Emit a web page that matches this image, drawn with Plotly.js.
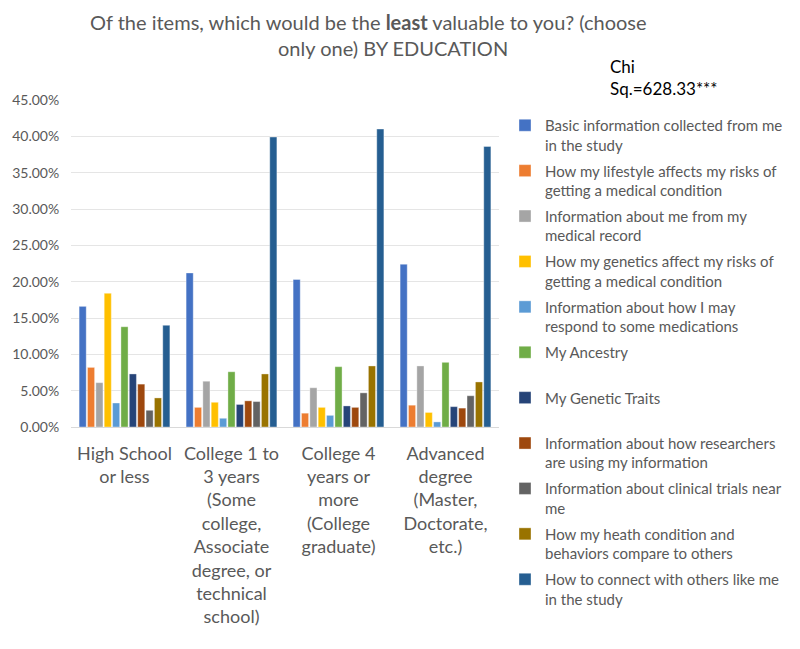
<!DOCTYPE html>
<html>
<head>
<meta charset="utf-8">
<script src="https://cdn.plot.ly/plotly-3.0.1.min.js"></script>
<style>
  body { margin: 0; background: #fff; }
  #plot { width: 800px; height: 649px; }
</style>
</head>
<body>
<div id="plot"></div>
<script>
// education groups on the x axis
let categories = [
  "High School<br>or less",
  "College 1 to<br>3 years<br>(Some<br>college,<br>Associate<br>degree, or<br>technical<br>school)",
  "College 4<br>years or<br>more<br>(College<br>graduate)",
  "Advanced<br>degree<br>(Master,<br>Doctorate,<br>etc.)"
];

// legend labels (wrapped like the original)
let items = [
  "Basic information collected from me<br>in the study",
  "How my lifestyle affects my risks of<br>getting a medical condition",
  "Information about me from my<br>medical record",
  "How my genetics affect my risks of<br>getting a medical condition",
  "Information about how I may<br>respond to some medications",
  "My Ancestry<br> ",
  "My Genetic Traits<br> ",
  "Information about how researchers<br>are using my information",
  "Information about clinical trials near<br>me",
  "How my heath condition and<br>behaviors compare to others",
  "How to connect with others like me<br>in the study"
];

// share per item, one array per education group
let highSchool = [0.166, 0.082, 0.061, 0.184, 0.033, 0.138, 0.073, 0.059, 0.023, 0.040, 0.140];
let college13 = [0.212, 0.027, 0.063, 0.034, 0.012, 0.076, 0.031, 0.036, 0.035, 0.073, 0.399];
let college4 = [0.203, 0.019, 0.054, 0.027, 0.016, 0.083, 0.029, 0.027, 0.047, 0.084, 0.410];
let advanced = [0.224, 0.030, 0.084, 0.020, 0.007, 0.089, 0.028, 0.026, 0.043, 0.062, 0.386];

let colors = ["#4472C4", "#ED7D31", "#A5A5A5", "#FFC000", "#5B9BD5", "#70AD47",
              "#264478", "#9E480E", "#636363", "#997300", "#255E91"];

let groups = [highSchool, college13, college4, advanced];

let data = items.map(function (name, i) {
  return {
    x: categories,
    y: groups.map(function (g) { return g[i]; }),
    type: "bar",
    name: name,
    legendgroup: "g" + i,
    marker: { color: colors[i], line: { color: "rgba(255,255,255,0.6)", width: 0.6 } }
  };
});

let grey = "#595959";

let layout = {
  width: 800,
  height: 649,
  margin: { l: 71, r: 301, t: 100, b: 222 },
  font: { family: "Lato, sans-serif", color: grey },
  plot_bgcolor: "#fff",
  paper_bgcolor: "#fff",
  barmode: "group",
  bargap: 0.14,
  bargroupgap: 0.15,
  showlegend: true,
  legend: {
    xref: "container", yref: "container",
    x: 505 / 800, y: 1 - 109 / 649,
    xanchor: "left", yanchor: "top",
    font: { size: 15, color: grey },
    valign: "top",
    tracegroupgap: 3.4,
    itemwidth: 30,
    maxheight: 620
  },
  xaxis: {
    tickfont: { size: 18, color: grey },
    showline: true, linecolor: "#d9d9d9",
    ticks: "",
    ticklabelstandoff: 10
  },
  yaxis: {
    range: [0, 0.45],
    dtick: 0.05,
    tickformat: ".2%",
    tickfont: { size: 14, color: grey },
    gridcolor: "#e5e5e5",
    zeroline: false,
    ticks: "outside", tickcolor: "#fff", ticklen: 8
  },
  annotations: [
    {
      xanchor: "left", yanchor: "middle",
      text: "Of the items, which would be the <b>least</b> valuable to you? (choose",
      showarrow: false, font: { size: 20, color: grey }
    },
    {
      xanchor: "left", yanchor: "middle",
      text: "only one) BY EDUCATION",
      showarrow: false, font: { size: 20, color: grey }
    },
    {
      xanchor: "left", yanchor: "top",
      text: "Chi<br>Sq.=628.33***", align: "left",
      showarrow: false, font: { size: 17, color: "#000" }
    }
  ]
};

// annotations are placed in pixels, converted to paper units
let ph = 649 - 100 - 222, pw = 800 - 71 - 301;
function py(pix) { return (649 - 222 - pix) / ph; }
function px(pix) { return (pix - 71) / pw; }
let spots = [[88, 22], [276, 48], [608, 54]];
layout.annotations.forEach(function (a, k) {
  a.xref = "paper"; a.yref = "paper";
  a.x = px(spots[k][0]); a.y = py(spots[k][1]);
});

Plotly.newPlot("plot", data, layout, { displayModeBar: false });
</script>
</body>
</html>
